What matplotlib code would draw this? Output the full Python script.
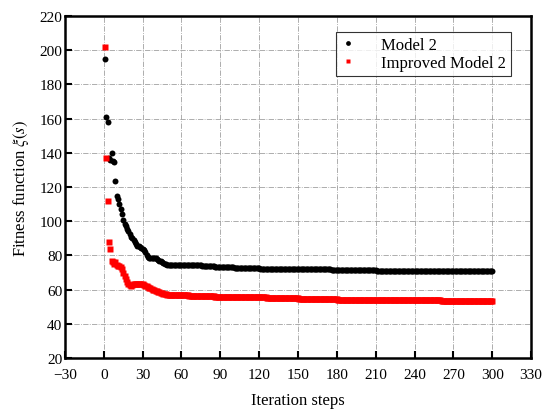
import numpy as np
import matplotlib
matplotlib.use('Agg')
from matplotlib import pyplot as plt

plt.rcParams['font.family'] = ['Liberation Serif', 'DejaVu Serif']
plt.rcParams['mathtext.fontset'] = 'stix'

# iteration 1..50 read point by point, then plateau runs (value, count)
model2_head = [195, 161, 158, 137, 136, 140, 135.5, 134.5, 123.5, 114.5,
               113, 110, 107, 104, 101, 98.5, 97, 95.5, 94, 92.5,
               91, 90, 89, 88, 86.5, 85.5, 85.5, 85, 84.5, 84,
               83, 82, 80.5, 79, 78.5, 78.5, 78.5, 78.5, 78.5, 78.3,
               78, 77.5, 77, 76.5, 76, 75.5, 75, 74.8, 74.6, 74.5]
model2_tail_vals = [74.4, 74.2, 73.6, 73.1, 72.6, 72.2, 71.8, 71.4, 71.0]
model2_tail_runs = [10, 15, 10, 15, 20, 25, 30, 35, 90]

improved_head = [202, 137, 112, 88, 84, 77, 76, 75, 76, 74.5,
                 74, 74, 73, 72, 70, 68, 66, 64.5, 63, 62.5,
                 62, 62.5, 63, 63.2, 63.2, 63.2, 63.2, 63.2, 63.2, 63,
                 62.7, 62.3, 62, 61.5, 61, 60.7, 60.3, 60, 59.6, 59.3,
                 59, 58.7, 58.4, 58.1, 57.8, 57.6, 57.4, 57.2, 57, 56.8]
improved_tail_vals = [56.6, 56.3, 55.9, 55.5, 55.1, 54.7, 54.2, 53.7, 53.3]
improved_tail_runs = [15, 20, 15, 25, 25, 30, 35, 45, 40]

model2 = np.concatenate([model2_head, np.repeat(model2_tail_vals, model2_tail_runs)])
improved = np.concatenate([improved_head, np.repeat(improved_tail_vals, improved_tail_runs)])
steps = np.arange(1, len(model2) + 1)

fig = plt.figure(figsize=(5.48, 4.10), dpi=100)
ax = fig.add_axes([0.1186, 0.1244, 0.8504, 0.834])

ax.plot(steps, model2, 'o', color='black', ms=4.3, mec='none', label='Model 2', zorder=3)
ax.plot(steps, improved, 's', color='red', ms=3.8, mec='none', label='Improved Model 2', zorder=3)

ax.set_xlim(-30, 330)
ax.set_ylim(20, 220)
ax.set_xticks(np.arange(-30, 331, 30))
ax.set_yticks(np.arange(20, 221, 20))
ax.grid(True, linestyle='-.', color='#a0a0a0', lw=0.6)
ax.set_axisbelow(True)
ax.tick_params(direction='in', length=5, width=1.5, labelsize=11,
               top=False, right=False)
ax.tick_params(axis='x', pad=7)
ax.tick_params(axis='y', pad=2)
for s in ax.spines.values():
    s.set_linewidth(1.8)

ax.set_xlabel('Iteration steps', fontsize=12, labelpad=8)
ax.set_ylabel(r'Fitness function $\xi(s)$', fontsize=12, labelpad=6)

leg = ax.legend(loc='upper right', bbox_to_anchor=(0.957, 0.953), borderaxespad=0,
                fancybox=False, edgecolor='black', fontsize=12, markerscale=0.8,
                handlelength=0.8, handletextpad=1.6, borderpad=0.3,
                labelspacing=0.1)
leg.get_frame().set_linewidth(0.8)

fig.savefig('out.png', dpi=100)
